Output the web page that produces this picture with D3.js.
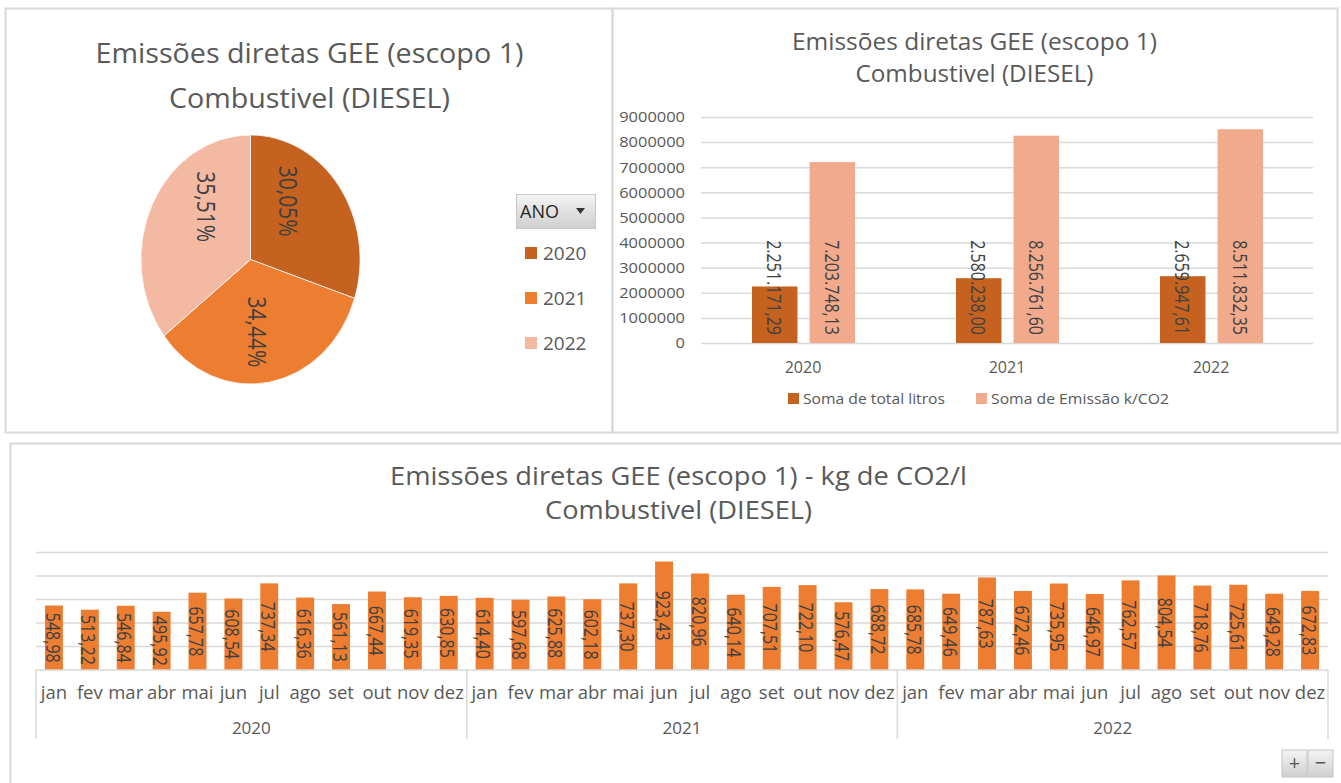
<!DOCTYPE html>
<html><head><meta charset="utf-8">
<script src="https://cdn.jsdelivr.net/npm/d3@7"></script>
<style>body{margin:0;background:#fff;overflow:hidden}svg{display:block;font-family:"Open Sans",sans-serif}</style>
</head><body><svg id="c" width="1341" height="783"></svg>
<script>
const years = ["2020", "2021", "2022"];
const litros = [2251171.29, 2580238.00, 2659947.61];
const emissao = [7203748.13, 8256761.60, 8511832.35];
const months = ["jan","fev","mar","abr","mai","jun","jul","ago","set","out","nov","dez"];
const monthly2020 = [548.98, 513.22, 546.84, 495.92, 657.78, 608.54, 737.34, 616.36, 561.13, 667.44, 619.35, 630.85];
const monthly2021 = [614.40, 597.68, 625.88, 602.18, 737.30, 923.43, 820.96, 640.14, 707.51, 722.10, 576.47, 688.72];
const monthly2022 = [685.78, 649.46, 787.63, 672.46, 735.95, 646.97, 762.57, 804.54, 718.76, 725.61, 649.28, 672.83];
const barTicks = [0,1000000,2000000,3000000,4000000,5000000,6000000,7000000,8000000,9000000];
const monthTicks = [200,400,600,800,1000];
const seriesNames = ["Soma de total litros", "Soma de Emissão k/CO2"];
const legendTitle = "ANO";
const title1 = "Emissões diretas GEE (escopo 1)";
const title2 = "Combustivel (DIESEL)";
const bottomTitle1 = "Emissões diretas GEE (escopo 1) - kg de CO2/l";

const C_DARK = "#C5621F", C_MID = "#ED7D31", C_LIGHT_BAR = "#F2AA8C", C_LIGHT_PIE = "#F3B9A3";
const pieColors = [C_DARK, C_MID, C_LIGHT_PIE];
const GRID = "#d9d9d9", TXT = "#595959", LBL = "#404040";

const loc = d3.formatLocale({decimal: ",", thousands: ".", grouping: [3], currency: ["R$", ""]});
const fmt2 = loc.format(",.2f");
const fmtPct = loc.format(".2%");

const svg = d3.select("#c");

// panel frames
svg.append("rect").attr("x",5.5).attr("y",8.5).attr("width",607).attr("height",424).attr("fill","none").attr("stroke",GRID).attr("stroke-width",2);
svg.append("rect").attr("x",612.5).attr("y",8.5).attr("width",725).attr("height",424).attr("fill","none").attr("stroke",GRID).attr("stroke-width",2);
svg.append("rect").attr("x",10.5).attr("y",443.5).attr("width",1345).attr("height",360).attr("fill","none").attr("stroke",GRID).attr("stroke-width",2);

function title(cx, y, text, size, width) {
  svg.append("text").attr("x", cx).attr("y", y).attr("text-anchor","middle")
    .attr("font-size", size).attr("fill", TXT).attr("textLength", width)
    .attr("lengthAdjust","spacingAndGlyphs").text(text);
}

// ---------- Pie ----------
title(309.5, 63, title1, 28, 428);
title(309.5, 108, title2, 28, 281);

const R = 124.5, sx = 0.88;
const pieG = svg.append("g").attr("transform","translate(250.5,259.5)");
const arcs = d3.pie().sort(null).value(d => d)(emissao);
const arc = d3.arc().innerRadius(0).outerRadius(R);
pieG.append("g").attr("transform",`scale(${sx},1)`).selectAll("path").data(arcs).join("path")
  .attr("d", arc).attr("fill", (d,i) => pieColors[i]).attr("stroke","#fff").attr("stroke-width",0.8);
const total = d3.sum(emissao);
pieG.selectAll("text.pl").data(arcs).join("text").attr("class","pl")
  .attr("transform", d => {
    const mid = (d.startAngle + d.endAngle) / 2;
    const v = mid < Math.PI/2 ? 0 : (mid > 1.5*Math.PI ? 2*Math.PI : Math.PI);
    const a = v + 0.68 * (mid - v);
    const r = 0.585 * R;
    return `translate(${r*Math.sin(a)*sx},${-r*Math.cos(a)}) rotate(90) scale(1,1.2)`;
  })
  .attr("text-anchor","middle").attr("dominant-baseline","central")
  .attr("font-size",21).attr("fill",LBL).text(d => fmtPct(d.value/total));

// legend with filter button
const btnGrad = svg.append("defs").append("linearGradient").attr("id","btn").attr("x1",0).attr("y1",0).attr("x2",0).attr("y2",1);
btnGrad.append("stop").attr("offset","0%").attr("stop-color","#f4f4f4");
btnGrad.append("stop").attr("offset","100%").attr("stop-color","#cfcfcf");
svg.append("rect").attr("x",516.5).attr("y",194.5).attr("width",79).attr("height",34).attr("fill","url(#btn)").attr("stroke","#c8c8c8");
svg.append("text").attr("x",520).attr("y",218).attr("font-size",18).attr("fill","#262626").text(legendTitle);
svg.append("path").attr("d","M576,208 L585,208 L580.5,214 Z").attr("fill","#333");
const pl = svg.append("g").selectAll("g").data(years).join("g")
  .attr("transform",(d,i) => `translate(525,${247 + i*45})`);
pl.append("rect").attr("width",12).attr("height",12).attr("fill",(d,i)=>pieColors[i]);
pl.append("text").attr("x",18).attr("y",13).attr("font-size",19).attr("fill",TXT).text(d=>d);

// ---------- Bar chart ----------
title(974.5, 50, title1, 24, 365);
title(974.5, 82, title2, 24, 238);

const bx = d3.scaleBand().domain(years).range([701,1313]).padding(0);
const bx1 = d3.scaleBand().domain([0,1]).range([bx.bandwidth()*0.25, bx.bandwidth()*0.755]).paddingInner(0.21);
const by = d3.scaleLinear().domain([0,9000000]).range([343,117]);

const yAx = svg.append("g").attr("transform","translate(701,0)")
  .call(d3.axisLeft(by).tickValues(barTicks).tickFormat(d3.format("d")).tickSizeInner(-612).tickSizeOuter(0).tickPadding(16));
yAx.select(".domain").remove();
yAx.selectAll("line").attr("stroke",GRID).attr("stroke-width",1.5);
yAx.selectAll("text").attr("font-size",15).attr("fill",TXT).attr("font-family","Open Sans")
  .attr("textLength", function(){ return this.textContent.length*9.4; }).attr("lengthAdjust","spacingAndGlyphs");

const xAx = svg.append("g").attr("transform","translate(0,343)")
  .call(d3.axisBottom(bx).tickSize(0).tickPadding(19));
xAx.select(".domain").remove();
xAx.selectAll("text").attr("font-size",16).attr("fill",TXT).attr("font-family","Open Sans");

const series = [litros, emissao];
const barColors = [C_DARK, C_LIGHT_BAR];
const bdata = years.flatMap((yr, i) => series.map((s, k) => ({yr, k, v: s[i]})));
svg.append("g").selectAll("rect").data(bdata).join("rect")
  .attr("x", d => bx(d.yr) + bx1(d.k)).attr("width", bx1.bandwidth())
  .attr("y", d => by(d.v)).attr("height", d => by(0) - by(d.v))
  .attr("fill", d => barColors[d.k]);
svg.append("g").selectAll("text").data(bdata).join("text")
  .attr("transform", d => `translate(${bx(d.yr) + bx1(d.k) + bx1.bandwidth()/2},${by(0) - 8}) rotate(90) scale(1,1.22)`)
  .attr("text-anchor","end").attr("dominant-baseline","central")
  .attr("font-size",16).attr("fill",LBL).text(d => fmt2(d.v));

const bl = svg.append("g").selectAll("g").data(seriesNames).join("g")
  .attr("transform",(d,i) => `translate(${[788,976][i]},393)`);
bl.append("rect").attr("width",11).attr("height",11).attr("fill",(d,i)=>barColors[i]);
bl.append("text").attr("x",15).attr("y",11).attr("font-size",15).attr("fill",TXT)
  .attr("textLength",(d,i)=>[142,178][i]).attr("lengthAdjust","spacingAndGlyphs").text(d=>d);

// ---------- Monthly chart ----------
title(678.5, 485, bottomTitle1, 25, 577);
title(678.5, 519, title2, 25, 267);

const monthly = [monthly2020, monthly2021, monthly2022];
const mdata = years.flatMap((yr, i) => months.map((m, j) => ({yr, m, idx: i*12 + j, v: monthly[i][j]})));
const mx = d3.scaleBand().domain(d3.range(mdata.length)).range([36,1328]).paddingInner(0.5).paddingOuter(0.25);
const my = d3.scaleLinear().domain([0,1000]).range([670,552.5]);

svg.append("g").selectAll("line").data(monthTicks).join("line")
  .attr("x1",36).attr("x2",1328).attr("y1",d=>my(d)).attr("y2",d=>my(d))
  .attr("stroke",GRID).attr("stroke-width",1.5);
svg.append("g").selectAll("rect").data(mdata).join("rect")
  .attr("x", d => mx(d.idx)).attr("width", mx.bandwidth())
  .attr("y", d => my(d.v)).attr("height", d => my(0) - my(d.v)).attr("fill", C_MID);
svg.append("g").selectAll("text").data(mdata).join("text")
  .attr("transform", d => `translate(${mx(d.idx) + mx.bandwidth()/2},${(my(d.v) + my(0))/2}) rotate(90) scale(1,1.3)`)
  .attr("text-anchor","middle").attr("dominant-baseline","central")
  .attr("font-size",16).attr("fill",LBL).text(d => fmt2(d.v));

// axis base and multi-level category axis
svg.append("line").attr("x1",36).attr("x2",1328).attr("y1",my(0)).attr("y2",my(0)).attr("stroke",GRID).attr("stroke-width",1.5);
const step = mx.step();
svg.append("g").selectAll("line").data(d3.range(years.length + 1)).join("line")
  .attr("x1", k => 36 + k*12*step).attr("x2", k => 36 + k*12*step)
  .attr("y1", my(0)).attr("y2", 739).attr("stroke",GRID).attr("stroke-width",1.5);
svg.append("g").selectAll("text").data(mdata).join("text")
  .attr("x", d => mx(d.idx) + mx.bandwidth()/2).attr("y", 699).attr("text-anchor","middle")
  .attr("font-size",18.5).attr("fill",TXT).text(d => d.m);
svg.append("g").selectAll("text").data(years).join("text")
  .attr("x", (d,i) => 36 + (i*12 + 6)*step).attr("y", 734).attr("text-anchor","middle")
  .attr("font-size",17).attr("fill",TXT).text(d => d);

// zoom buttons
const zb = svg.append("g").selectAll("g").data(["+","−"]).join("g")
  .attr("transform",(d,i)=>`translate(${1282 + i*26},750)`);
zb.append("rect").attr("width",25).attr("height",27).attr("fill","url(#btn)").attr("stroke","#c4c4c4");
zb.append("text").attr("x",12.5).attr("y",20).attr("text-anchor","middle").attr("font-size",20).attr("fill","#555").text(d=>d);
</script></body></html>
